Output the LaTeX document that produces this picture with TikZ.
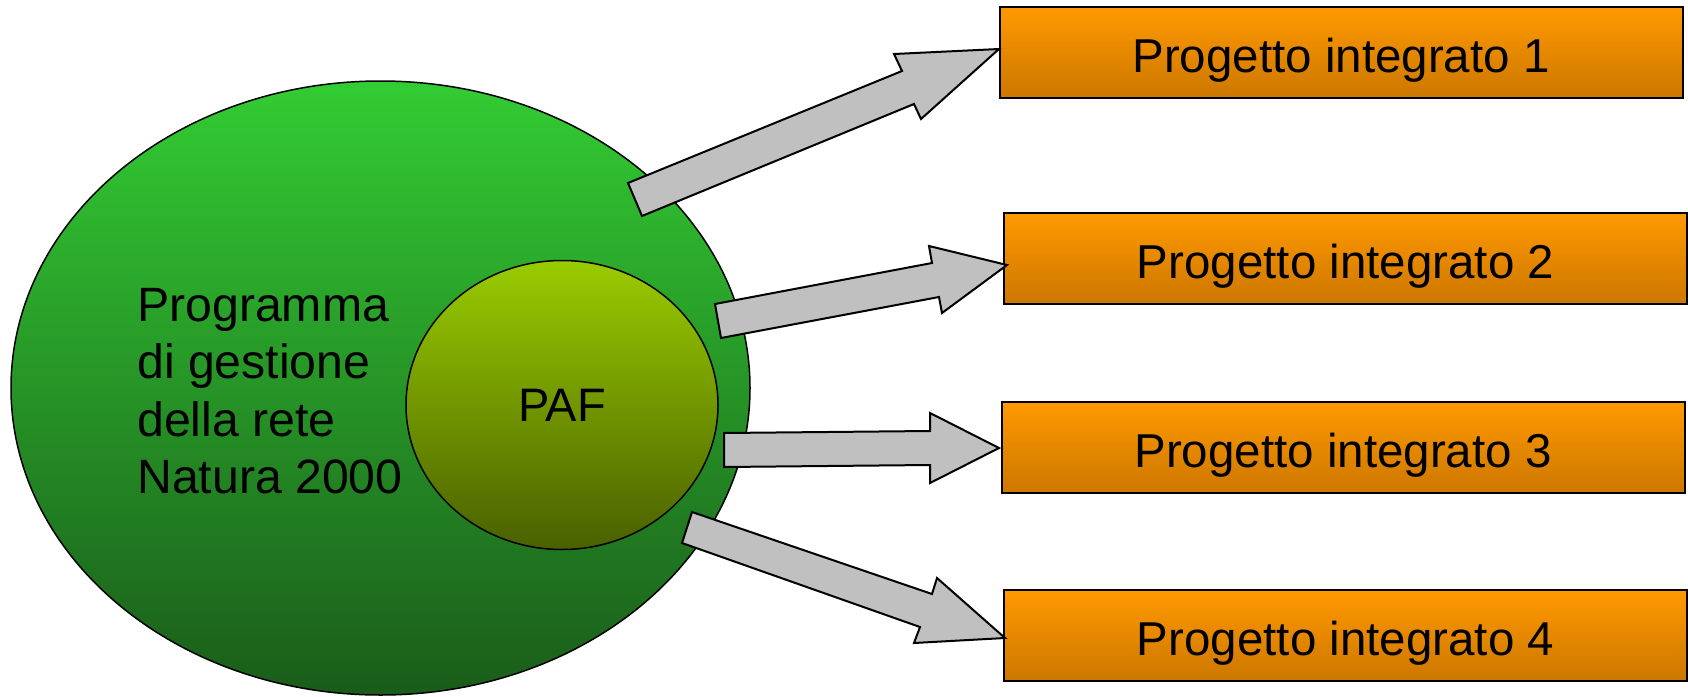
\documentclass[tikz,border=0pt]{standalone}
\usepackage{fontspec}
\setmainfont{Liberation Sans}
\usetikzlibrary{shapes.geometric,shadings}
\definecolor{gtop}{RGB}{51,204,51}
\definecolor{gbot}{RGB}{26,92,26}
\definecolor{ptop}{RGB}{153,204,0}
\definecolor{pbot}{RGB}{74,96,0}
\definecolor{otop}{RGB}{255,153,0}
\definecolor{obot}{RGB}{204,119,0}
\definecolor{agray}{RGB}{192,192,192}
\begin{document}
\begin{tikzpicture}[x=1pt,y=-1pt,
  bigell/.style={ellipse, draw=black, line width=1.5pt, top color=gtop, bottom color=gbot,
    minimum width=739pt, minimum height=614pt, inner sep=0pt},
  pafell/.style={ellipse, draw=black, line width=1.5pt, top color=ptop, bottom color=pbot,
    minimum width=312pt, minimum height=289pt, inner sep=0pt, font=\fontsize{47}{56}\selectfont},
  pbox/.style={rectangle, draw=black, line width=2pt, top color=otop, bottom color=obot,
    minimum width=683pt, minimum height=91pt, inner sep=0pt,
    text height=40pt, text depth=0pt, font=\fontsize{47.5}{56}\selectfont},
  barrow/.style={draw=black, line width=2pt, fill=agray, line join=miter},
  maintext/.style={inner sep=0pt, anchor=base west, font=\fontsize{48.2}{57.5}\selectfont}
]
\useasboundingbox (0,0) rectangle (1688,696);

% ellipses
\node[bigell] (prog) at (380.5,388) {};
\node[maintext] (progtext) at (137,321)
  {\begin{tabular}[t]{@{}l@{}}Programma\\di gestione\\della rete\\Natura 2000\end{tabular}};
\node[pafell] (paf) at (562,405) {PAF};

% boxes
\node[pbox] (p1) at (1341,52.5) {Progetto integrato 1};
\node[pbox] (p2) at (1345.5,258.5) {Progetto integrato 2};
\node[pbox] (p3) at (1343,447.5) {Progetto integrato 3};
\node[pbox] (p4) at (1345.5,635.5) {Progetto integrato 4};

% block arrows
\draw[barrow] (628,183) -- (902,71) -- (894,54) -- (999,49) -- (921,119) -- (914,104) -- (642,216) -- cycle;
\draw[barrow] (715,304) -- (932,263) -- (929,246) -- (1007,265) -- (942,313) -- (939,297) -- (721,338) -- cycle;
\draw[barrow] (724,433) -- (930,431) -- (930,413) -- (999,448) -- (930,483) -- (930,465) -- (724,467) -- cycle;
\draw[barrow] (692,512) -- (932,594) -- (937,578) -- (1005,638) -- (914,643) -- (920,627) -- (682,543) -- cycle;
\end{tikzpicture}
\end{document}
